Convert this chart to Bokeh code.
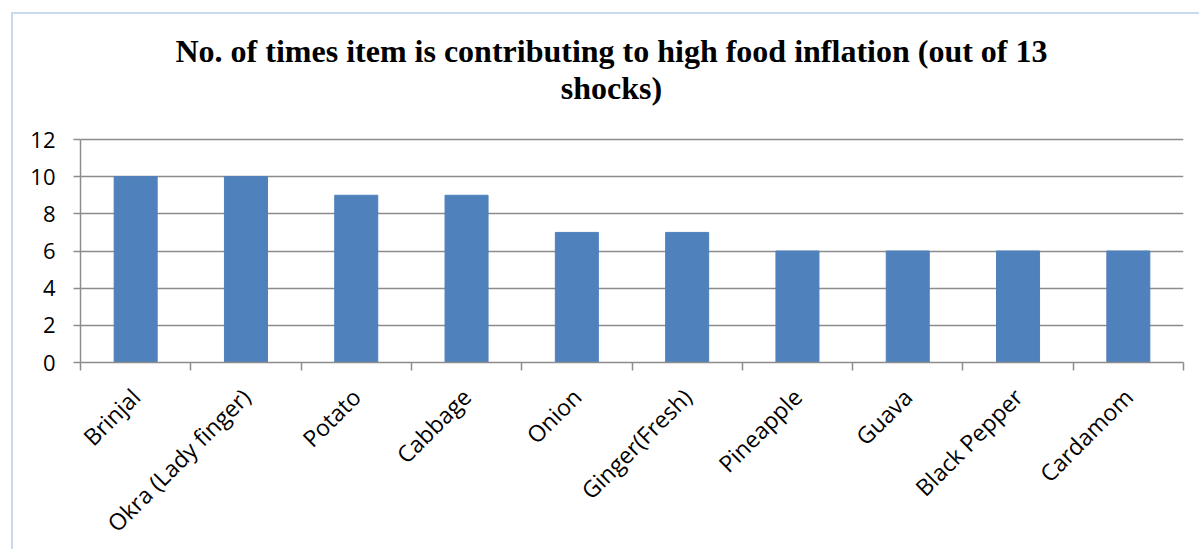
from bokeh.plotting import figure
from bokeh.models import Range1d, FixedTicker, Label, ColumnDataSource
from bokeh.embed import file_html
from bokeh.resources import INLINE
from math import pi

categories = ["Brinjal", "Okra (Lady finger)", "Potato", "Cabbage", "Onion",
              "Ginger(Fresh)", "Pineapple", "Guava", "Black Pepper", "Cardamom"]
counts = [10, 10, 9, 9, 7, 7, 6, 6, 6, 6]
y_ticks = [0, 2, 4, 6, 8, 10, 12]
title_line1 = "No. of times item is contributing to high food inflation (out of 13"
title_line2 = "shocks)"

# layout (pixels)
FRAME_H = 348        # frame includes the title area
PLOT_H = 223         # pixel height of the 0..12 value band
y_end = y_ticks[-1] * FRAME_H / PLOT_H

xpos = [i + 0.5 for i in range(len(categories))]
src = ColumnDataSource(dict(x=xpos, top=counts, cat=categories))

p = figure(frame_width=1103, frame_height=FRAME_H, output_backend="svg", toolbar_location=None,
           x_range=Range1d(0, len(categories)), y_range=Range1d(0, y_end),
           min_border_left=67, min_border_right=18, min_border_top=0, min_border_bottom=176,
           styles={"border-top": "2px solid #C9DAF0", "border-left": "2px solid #C9DAF0",
                   "margin-left": "11px", "margin-top": "12px"})
p.title.visible = False

for txt, yy in [(title_line1, 312), (title_line2, 275)]:
    p.add_layout(Label(x=531, y=yy, x_units="screen", y_units="screen", text=txt,
                       text_align="center", text_baseline="alphabetic",
                       text_font="Liberation Serif", text_font_style="bold",
                       text_font_size="32px", text_color="black"))

p.vbar(x="x", top="top", width=0.39, bottom=0, source=src, color="#4F81BD")

p.outline_line_color = None
p.background_fill_color = "white"
p.border_fill_color = "white"

p.xgrid.visible = False
p.ygrid.grid_line_color = "#8C8C8C"
p.ygrid.grid_line_width = 1.5
p.ygrid.ticker = FixedTicker(ticks=y_ticks)

p.yaxis.ticker = FixedTicker(ticks=y_ticks)
p.yaxis.bounds = (y_ticks[0], y_ticks[-1])
p.yaxis.axis_line_color = "#8C8C8C"
p.yaxis.axis_line_width = 1.5
p.yaxis.major_tick_line_color = "#8C8C8C"
p.yaxis.major_tick_line_width = 1.5
p.yaxis.major_tick_in = 0
p.yaxis.major_tick_out = 7
p.yaxis.minor_tick_line_color = None
p.yaxis.major_label_text_font = "Open Sans"
p.yaxis.major_label_text_font_size = "22px"
p.yaxis.major_label_text_color = "black"
p.yaxis.major_label_standoff = 18

p.xaxis.ticker = FixedTicker(ticks=xpos, minor_ticks=list(range(len(categories) + 1)))
p.xaxis.major_label_overrides = {x: c for x, c in zip(xpos, categories)}
p.xaxis.major_label_orientation = pi / 4
p.xaxis.major_tick_line_color = None
p.xaxis.minor_tick_line_color = "#8C8C8C"
p.xaxis.minor_tick_line_width = 1.5
p.xaxis.minor_tick_in = 0
p.xaxis.minor_tick_out = 8
p.xaxis.axis_line_color = "#8C8C8C"
p.xaxis.axis_line_width = 1.5
p.xaxis.major_label_text_font = "Open Sans"
p.xaxis.major_label_text_font_size = "23px"
p.xaxis.major_label_text_color = "black"
p.xaxis.major_label_standoff = 22

open("out.html", "w").write(file_html(p, INLINE))
